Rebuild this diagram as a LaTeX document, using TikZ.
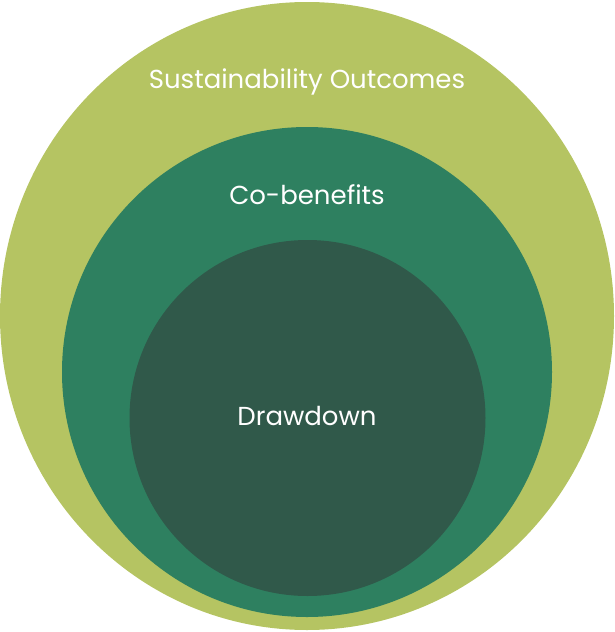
\documentclass[tikz,border=0pt]{standalone}
\usepackage{fontspec}
\setmainfont{Poppins}
\definecolor{outerc}{HTML}{B5C462}
\definecolor{midc}{HTML}{2E8060}
\definecolor{innerc}{HTML}{30594A}
\begin{document}
\begin{tikzpicture}[x=1pt,y=-1pt,
  lab/.style={text=white,font=\fontsize{26}{30}\selectfont}]
\useasboundingbox (0,0) rectangle (615,632);
\fill[outerc] (307,316) ellipse [x radius=307, y radius=314];
\fill[midc] (307,372) circle [radius=245];
\fill[innerc] (307.5,418) circle [radius=178];
\node[lab] (o) at (307,82) {Sustainability Outcomes};
\node[lab] (c) at (307,195) {Co-benefits};
\node[lab] (d) at (307,416) {Drawdown};
\end{tikzpicture}
\end{document}
